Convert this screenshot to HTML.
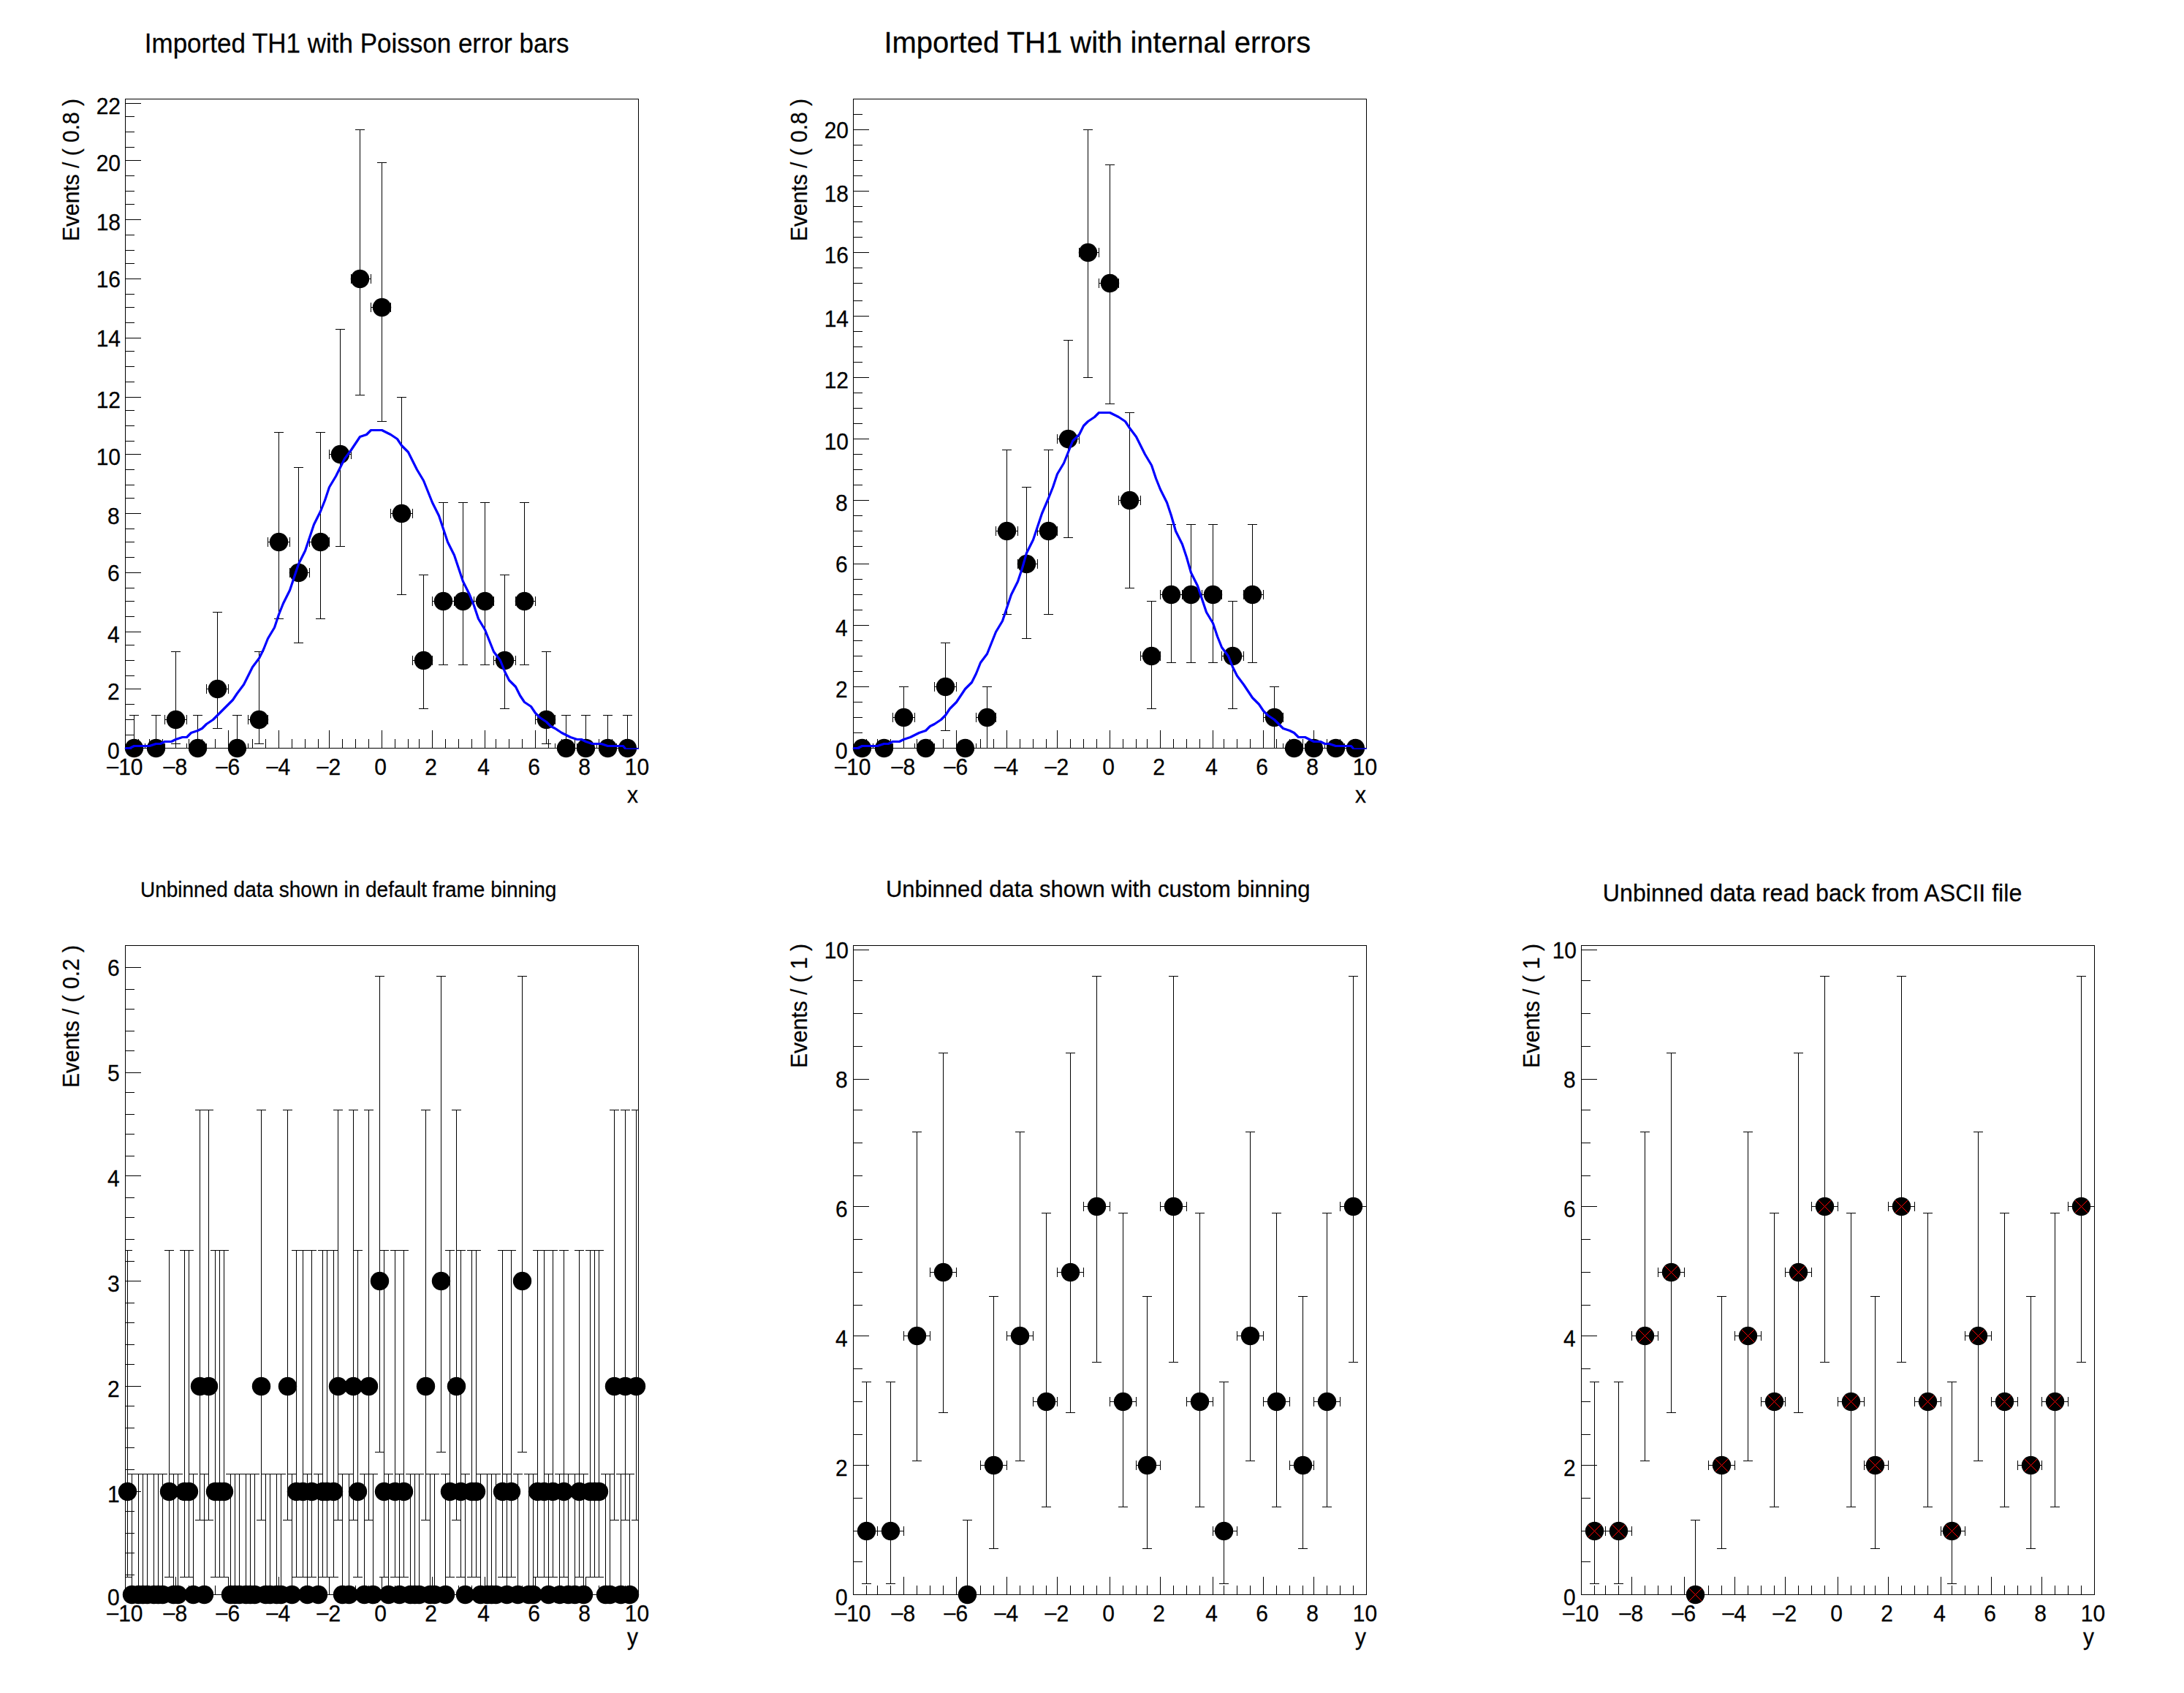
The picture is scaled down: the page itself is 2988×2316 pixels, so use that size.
<!DOCTYPE html>
<html><head><meta charset="utf-8"><title>rf102_dataimport</title>
<style>
html,body{margin:0;padding:0;background:#fff}
svg{display:block}
text{font-family:"Liberation Sans",sans-serif;font-size:30px;fill:#000;stroke:#000;stroke-width:0.25px}
</style></head><body>
<svg width="2988" height="2316" viewBox="0 0 2988 2316">
<rect width="2988" height="2316" fill="#fff"/>
<path shape-rendering="crispEdges" fill="none" stroke="#000" stroke-width="1" d="M171 135.5H874M171 1023.5H874M171.5 135V1024M873.5 135V1024M171.5 999V1024M189.5 1011V1024M204.5 1011V1024M222.5 1011V1024M240.5 999V1024M258.5 1011V1024M276.5 1011V1024M294.5 1011V1024M312.5 999V1024M327.5 1011V1024M345.5 1011V1024M363.5 1011V1024M381.5 999V1024M399.5 1011V1024M417.5 1011V1024M435.5 1011V1024M450.5 999V1024M468.5 1011V1024M486.5 1011V1024M504.5 1011V1024M522.5 999V1024M540.5 1011V1024M558.5 1011V1024M573.5 1011V1024M591.5 999V1024M609.5 1011V1024M627.5 1011V1024M645.5 1011V1024M663.5 999V1024M678.5 1011V1024M696.5 1011V1024M714.5 1011V1024M732.5 999V1024M750.5 1011V1024M768.5 1011V1024M786.5 1011V1024M801.5 999V1024M819.5 1011V1024M837.5 1011V1024M855.5 1011V1024M873.5 999V1024M171 1023.5H193M171 1005.5H184M171 984.5H184M171 963.5H184M171 942.5H193M171 924.5H184M171 903.5H184M171 882.5H184M171 864.5H193M171 843.5H184M171 822.5H184M171 804.5H184M171 783.5H193M171 762.5H184M171 741.5H184M171 723.5H184M171 702.5H193M171 681.5H184M171 663.5H184M171 642.5H184M171 621.5H193M171 603.5H184M171 582.5H184M171 561.5H184M171 543.5H193M171 522.5H184M171 501.5H184M171 480.5H184M171 462.5H193M171 441.5H184M171 420.5H184M171 402.5H184M171 381.5H193M171 360.5H184M171 342.5H184M171 321.5H184M171 300.5H193M171 279.5H184M171 261.5H184M171 240.5H184M171 219.5H193M171 201.5H184M171 180.5H184M171 159.5H184M171 141.5H193"/>
<clipPath id="c00"><rect x="171" y="135" width="703" height="889"/></clipPath>
<path clip-path="url(#c00)" shape-rendering="crispEdges" fill="none" stroke="#000" stroke-width="1" d="M171.5 1017V1030M195 1023.5H199M198.5 1017V1030M183.5 978V1012M177 978.5H190M198 1023.5H202M198.5 1017V1030M225.5 1017V1030M213.5 978V1012M207 978.5H220M225 984.5H229M225.5 978V991M252 984.5H256M255.5 978V991M240.5 891V973M234 891.5H247M240.5 996V1018M234 1017.5H247M255 1023.5H259M255.5 1017V1030M282.5 1017V1030M270.5 978V1012M264 978.5H277M282 942.5H286M282.5 936V949M309 942.5H313M312.5 936V949M297.5 837V931M291 837.5H304M297.5 954V997M291 996.5H304M312.5 1017V1030M336 1023.5H340M339.5 1017V1030M324.5 978V1012M318 978.5H331M339 984.5H343M339.5 978V991M366.5 978V991M354.5 891V973M348 891.5H361M354.5 996V1018M348 1017.5H361M366 741.5H370M366.5 735V748M393 741.5H397M396.5 735V748M381.5 591V730M375 591.5H388M381.5 753V847M375 846.5H388M396.5 777V790M420 783.5H424M423.5 777V790M408.5 639V772M402 639.5H415M408.5 795V880M402 879.5H415M423 741.5H427M423.5 735V748M450.5 735V748M438.5 591V730M432 591.5H445M438.5 753V847M432 846.5H445M450 621.5H454M450.5 615V628M477 621.5H481M480.5 615V628M465.5 450V610M459 450.5H472M465.5 633V748M459 747.5H472M480.5 375V388M504 381.5H508M507.5 375V388M492.5 177V370M486 177.5H499M492.5 393V541M486 540.5H499M507 420.5H511M507.5 414V427M534.5 414V427M522.5 222V409M516 222.5H529M522.5 432V577M516 576.5H529M534 702.5H538M534.5 696V709M561 702.5H565M564.5 696V709M549.5 543V691M543 543.5H556M549.5 714V814M543 813.5H556M564 903.5H568M564.5 897V910M591.5 897V910M579.5 786V892M573 786.5H586M579.5 915V970M573 969.5H586M591 822.5H595M591.5 816V829M618 822.5H622M621.5 816V829M606.5 687V811M600 687.5H613M606.5 834V910M600 909.5H613M621.5 816V829M645 822.5H649M648.5 816V829M633.5 687V811M627 687.5H640M633.5 834V910M627 909.5H640M648 822.5H652M648.5 816V829M675.5 816V829M663.5 687V811M657 687.5H670M663.5 834V910M657 909.5H670M675 903.5H679M675.5 897V910M702 903.5H706M705.5 897V910M690.5 786V892M684 786.5H697M690.5 915V970M684 969.5H697M705.5 816V829M729 822.5H733M732.5 816V829M717.5 687V811M711 687.5H724M717.5 834V910M711 909.5H724M732 984.5H736M732.5 978V991M759.5 978V991M747.5 891V973M741 891.5H754M747.5 996V1018M741 1017.5H754M759 1023.5H763M759.5 1017V1030M786 1023.5H790M789.5 1017V1030M774.5 978V1012M768 978.5H781M789.5 1017V1030M813 1023.5H817M816.5 1017V1030M801.5 978V1012M795 978.5H808M816 1023.5H820M816.5 1017V1030M843.5 1017V1030M831.5 978V1012M825 978.5H838M843 1023.5H847M843.5 1017V1030M870 1023.5H874M873.5 1017V1030M858.5 978V1012M852 978.5H865"/>
<g fill="#000"><circle cx="183.5" cy="1023.5" r="12.7"/><circle cx="213.5" cy="1023.5" r="12.7"/><circle cx="240.5" cy="984.5" r="12.7"/><circle cx="270.5" cy="1023.5" r="12.7"/><circle cx="297.5" cy="942.5" r="12.7"/><circle cx="324.5" cy="1023.5" r="12.7"/><circle cx="354.5" cy="984.5" r="12.7"/><circle cx="381.5" cy="741.5" r="12.7"/><circle cx="408.5" cy="783.5" r="12.7"/><circle cx="438.5" cy="741.5" r="12.7"/><circle cx="465.5" cy="621.5" r="12.7"/><circle cx="492.5" cy="381.5" r="12.7"/><circle cx="522.5" cy="420.5" r="12.7"/><circle cx="549.5" cy="702.5" r="12.7"/><circle cx="579.5" cy="903.5" r="12.7"/><circle cx="606.5" cy="822.5" r="12.7"/><circle cx="633.5" cy="822.5" r="12.7"/><circle cx="663.5" cy="822.5" r="12.7"/><circle cx="690.5" cy="903.5" r="12.7"/><circle cx="717.5" cy="822.5" r="12.7"/><circle cx="747.5" cy="984.5" r="12.7"/><circle cx="774.5" cy="1023.5" r="12.7"/><circle cx="801.5" cy="1023.5" r="12.7"/><circle cx="831.5" cy="1023.5" r="12.7"/><circle cx="858.5" cy="1023.5" r="12.7"/></g>
<path fill="none" stroke="#00f" stroke-width="3.2" stroke-linejoin="round" d="M171.5 1023.5L177.5 1023.5L183.5 1020.5L192.5 1020.5L198.5 1020.5L204.5 1020.5L213.5 1017.5L219.5 1017.5L225.5 1014.5L234.5 1014.5L240.5 1011.5L249.5 1008.5L255.5 1008.5L261.5 1002.5L270.5 999.5L276.5 996.5L282.5 990.5L291.5 984.5L297.5 978.5L303.5 972.5L312.5 963.5L318.5 957.5L324.5 948.5L333.5 936.5L339.5 924.5L345.5 912.5L354.5 900.5L360.5 888.5L366.5 873.5L375.5 858.5L381.5 840.5L387.5 825.5L396.5 807.5L402.5 789.5L408.5 771.5L417.5 753.5L423.5 735.5L429.5 717.5L438.5 699.5L444.5 684.5L450.5 666.5L459.5 651.5L465.5 639.5L471.5 627.5L480.5 615.5L486.5 606.5L492.5 597.5L501.5 594.5L507.5 588.5L513.5 588.5L522.5 588.5L528.5 591.5L534.5 594.5L543.5 600.5L549.5 609.5L558.5 618.5L564.5 630.5L570.5 642.5L579.5 657.5L585.5 672.5L591.5 687.5L600.5 705.5L606.5 723.5L612.5 741.5L621.5 759.5L627.5 777.5L633.5 795.5L642.5 813.5L648.5 828.5L654.5 846.5L663.5 861.5L669.5 876.5L675.5 891.5L684.5 903.5L690.5 918.5L696.5 930.5L705.5 939.5L711.5 951.5L717.5 960.5L726.5 966.5L732.5 975.5L738.5 981.5L747.5 987.5L753.5 993.5L759.5 996.5L768.5 1002.5L774.5 1005.5L780.5 1008.5L789.5 1011.5L795.5 1011.5L801.5 1014.5L810.5 1017.5L816.5 1017.5L822.5 1017.5L831.5 1020.5L837.5 1020.5L843.5 1020.5L852.5 1020.5L855.5 1024.0"/>
<path fill="none" stroke="#00f" stroke-width="1.6" d="M171 1024.3h9M854.5 1024.3H874"/>
<g><text transform="translate(195.5 1059.5) scale(1 1.03)" text-anchor="end"><tspan style="font-size:28.5px" dy="-1">–</tspan><tspan dy="1">10</tspan></text><text transform="translate(256.1 1059.5) scale(1 1.03)" text-anchor="end"><tspan style="font-size:28.5px" dy="-1">–</tspan><tspan dy="1">8</tspan></text><text transform="translate(328.1 1059.5) scale(1 1.03)" text-anchor="end"><tspan style="font-size:28.5px" dy="-1">–</tspan><tspan dy="1">6</tspan></text><text transform="translate(397.1 1059.5) scale(1 1.03)" text-anchor="end"><tspan style="font-size:28.5px" dy="-1">–</tspan><tspan dy="1">4</tspan></text><text transform="translate(466.1 1059.5) scale(1 1.03)" text-anchor="end"><tspan style="font-size:28.5px" dy="-1">–</tspan><tspan dy="1">2</tspan></text><text transform="translate(520.5 1059.5) scale(1 1.03)" text-anchor="middle">0</text><text transform="translate(589.5 1059.5) scale(1 1.03)" text-anchor="middle">2</text><text transform="translate(661.5 1059.5) scale(1 1.03)" text-anchor="middle">4</text><text transform="translate(730.5 1059.5) scale(1 1.03)" text-anchor="middle">6</text><text transform="translate(799.5 1059.5) scale(1 1.03)" text-anchor="middle">8</text><text transform="translate(871.5 1059.5) scale(1 1.03)" text-anchor="middle">10</text><text transform="translate(163.7 1038.2) scale(1 1.03)" text-anchor="end">0</text><text transform="translate(163.7 957.2) scale(1 1.03)" text-anchor="end">2</text><text transform="translate(163.7 879.2) scale(1 1.03)" text-anchor="end">4</text><text transform="translate(163.7 795.3) scale(1 1.03)" text-anchor="end">6</text><text transform="translate(163.7 717.2) scale(1 1.03)" text-anchor="end">8</text><text transform="translate(165.0 636.2) scale(1 1.03)" text-anchor="end">10</text><text transform="translate(165.0 558.2) scale(1 1.03)" text-anchor="end">12</text><text transform="translate(165.0 474.3) scale(1 1.03)" text-anchor="end">14</text><text transform="translate(165.0 393.3) scale(1 1.03)" text-anchor="end">16</text><text transform="translate(165.0 315.2) scale(1 1.03)" text-anchor="end">18</text><text transform="translate(165.0 234.2) scale(1 1.03)" text-anchor="end">20</text><text transform="translate(165.0 156.2) scale(1 1.03)" text-anchor="end">22</text><text transform="translate(873.0 1098.0) scale(1 1.03)" text-anchor="end">x</text><text transform="translate(108.3 135.0) rotate(-90) scale(1 1.03)" text-anchor="end">Events / ( 0.8 )</text><text transform="translate(197.8 71.7) scale(1 1.03)" style="font-size:35.0px">Imported TH1 with Poisson error bars</text></g>
<path shape-rendering="crispEdges" fill="none" stroke="#000" stroke-width="1" d="M1167 135.5H1870M1167 1023.5H1870M1167.5 135V1024M1869.5 135V1024M1167.5 999V1024M1185.5 1011V1024M1200.5 1011V1024M1218.5 1011V1024M1236.5 999V1024M1254.5 1011V1024M1272.5 1011V1024M1290.5 1011V1024M1308.5 999V1024M1323.5 1011V1024M1341.5 1011V1024M1359.5 1011V1024M1377.5 999V1024M1395.5 1011V1024M1413.5 1011V1024M1431.5 1011V1024M1446.5 999V1024M1464.5 1011V1024M1482.5 1011V1024M1500.5 1011V1024M1518.5 999V1024M1536.5 1011V1024M1554.5 1011V1024M1569.5 1011V1024M1587.5 999V1024M1605.5 1011V1024M1623.5 1011V1024M1641.5 1011V1024M1659.5 999V1024M1674.5 1011V1024M1692.5 1011V1024M1710.5 1011V1024M1728.5 999V1024M1746.5 1011V1024M1764.5 1011V1024M1782.5 1011V1024M1797.5 999V1024M1815.5 1011V1024M1833.5 1011V1024M1851.5 1011V1024M1869.5 999V1024M1167 1023.5H1189M1167 1002.5H1180M1167 981.5H1180M1167 960.5H1180M1167 939.5H1189M1167 918.5H1180M1167 897.5H1180M1167 876.5H1180M1167 855.5H1189M1167 834.5H1180M1167 813.5H1180M1167 792.5H1180M1167 771.5H1189M1167 747.5H1180M1167 726.5H1180M1167 705.5H1180M1167 684.5H1189M1167 663.5H1180M1167 642.5H1180M1167 621.5H1180M1167 600.5H1189M1167 579.5H1180M1167 558.5H1180M1167 537.5H1180M1167 516.5H1189M1167 495.5H1180M1167 474.5H1180M1167 453.5H1180M1167 432.5H1189M1167 411.5H1180M1167 387.5H1180M1167 366.5H1180M1167 345.5H1189M1167 324.5H1180M1167 303.5H1180M1167 282.5H1180M1167 261.5H1189M1167 240.5H1180M1167 219.5H1180M1167 198.5H1180M1167 177.5H1189M1167 156.5H1180M1167 135.5H1180"/>
<clipPath id="c10"><rect x="1167" y="135" width="703" height="889"/></clipPath>
<path clip-path="url(#c10)" shape-rendering="crispEdges" fill="none" stroke="#000" stroke-width="1" d="M1167.5 1017V1030M1191 1023.5H1195M1194.5 1017V1030M1194 1023.5H1198M1194.5 1017V1030M1221.5 1017V1030M1221 981.5H1225M1221.5 975V988M1248 981.5H1252M1251.5 975V988M1236.5 939V970M1230 939.5H1243M1236.5 993V1024M1230 1023.5H1243M1251 1023.5H1255M1251.5 1017V1030M1278.5 1017V1030M1278 939.5H1282M1278.5 933V946M1305 939.5H1309M1308.5 933V946M1293.5 879V928M1287 879.5H1300M1293.5 951V1000M1287 999.5H1300M1308.5 1017V1030M1332 1023.5H1336M1335.5 1017V1030M1335 981.5H1339M1335.5 975V988M1362.5 975V988M1350.5 939V970M1344 939.5H1357M1350.5 993V1024M1344 1023.5H1357M1362 726.5H1366M1362.5 720V733M1389 726.5H1393M1392.5 720V733M1377.5 615V715M1371 615.5H1384M1377.5 738V841M1371 840.5H1384M1392.5 765V778M1416 771.5H1420M1419.5 765V778M1404.5 666V760M1398 666.5H1411M1404.5 783V874M1398 873.5H1411M1419 726.5H1423M1419.5 720V733M1446.5 720V733M1434.5 615V715M1428 615.5H1441M1434.5 738V841M1428 840.5H1441M1446 600.5H1450M1446.5 594V607M1473 600.5H1477M1476.5 594V607M1461.5 465V589M1455 465.5H1468M1461.5 612V736M1455 735.5H1468M1476.5 339V352M1500 345.5H1504M1503.5 339V352M1488.5 177V334M1482 177.5H1495M1488.5 357V517M1482 516.5H1495M1503 387.5H1507M1503.5 381V394M1530.5 381V394M1518.5 225V376M1512 225.5H1525M1518.5 399V553M1512 552.5H1525M1530 684.5H1534M1530.5 678V691M1557 684.5H1561M1560.5 678V691M1545.5 564V673M1539 564.5H1552M1545.5 696V805M1539 804.5H1552M1560 897.5H1564M1560.5 891V904M1587.5 891V904M1575.5 822V886M1569 822.5H1582M1575.5 909V970M1569 969.5H1582M1587 813.5H1591M1587.5 807V820M1614 813.5H1618M1617.5 807V820M1602.5 717V802M1596 717.5H1609M1602.5 825V907M1596 906.5H1609M1617.5 807V820M1641 813.5H1645M1644.5 807V820M1629.5 717V802M1623 717.5H1636M1629.5 825V907M1623 906.5H1636M1644 813.5H1648M1644.5 807V820M1671.5 807V820M1659.5 717V802M1653 717.5H1666M1659.5 825V907M1653 906.5H1666M1671 897.5H1675M1671.5 891V904M1698 897.5H1702M1701.5 891V904M1686.5 822V886M1680 822.5H1693M1686.5 909V970M1680 969.5H1693M1701.5 807V820M1725 813.5H1729M1728.5 807V820M1713.5 717V802M1707 717.5H1720M1713.5 825V907M1707 906.5H1720M1728 981.5H1732M1728.5 975V988M1755.5 975V988M1743.5 939V970M1737 939.5H1750M1743.5 993V1024M1737 1023.5H1750M1755 1023.5H1759M1755.5 1017V1030M1782 1023.5H1786M1785.5 1017V1030M1785.5 1017V1030M1809 1023.5H1813M1812.5 1017V1030M1812 1023.5H1816M1812.5 1017V1030M1839.5 1017V1030M1839 1023.5H1843M1839.5 1017V1030M1866 1023.5H1870M1869.5 1017V1030"/>
<g fill="#000"><circle cx="1179.5" cy="1023.5" r="12.7"/><circle cx="1209.5" cy="1023.5" r="12.7"/><circle cx="1236.5" cy="981.5" r="12.7"/><circle cx="1266.5" cy="1023.5" r="12.7"/><circle cx="1293.5" cy="939.5" r="12.7"/><circle cx="1320.5" cy="1023.5" r="12.7"/><circle cx="1350.5" cy="981.5" r="12.7"/><circle cx="1377.5" cy="726.5" r="12.7"/><circle cx="1404.5" cy="771.5" r="12.7"/><circle cx="1434.5" cy="726.5" r="12.7"/><circle cx="1461.5" cy="600.5" r="12.7"/><circle cx="1488.5" cy="345.5" r="12.7"/><circle cx="1518.5" cy="387.5" r="12.7"/><circle cx="1545.5" cy="684.5" r="12.7"/><circle cx="1575.5" cy="897.5" r="12.7"/><circle cx="1602.5" cy="813.5" r="12.7"/><circle cx="1629.5" cy="813.5" r="12.7"/><circle cx="1659.5" cy="813.5" r="12.7"/><circle cx="1686.5" cy="897.5" r="12.7"/><circle cx="1713.5" cy="813.5" r="12.7"/><circle cx="1743.5" cy="981.5" r="12.7"/><circle cx="1770.5" cy="1023.5" r="12.7"/><circle cx="1797.5" cy="1023.5" r="12.7"/><circle cx="1827.5" cy="1023.5" r="12.7"/><circle cx="1854.5" cy="1023.5" r="12.7"/></g>
<path fill="none" stroke="#00f" stroke-width="3.2" stroke-linejoin="round" d="M1167.5 1023.5L1173.5 1023.5L1179.5 1020.5L1188.5 1020.5L1194.5 1020.5L1200.5 1020.5L1209.5 1017.5L1215.5 1017.5L1221.5 1014.5L1230.5 1014.5L1236.5 1011.5L1245.5 1008.5L1251.5 1005.5L1257.5 1002.5L1266.5 999.5L1272.5 993.5L1278.5 990.5L1287.5 984.5L1293.5 978.5L1299.5 969.5L1308.5 960.5L1314.5 951.5L1320.5 942.5L1329.5 933.5L1335.5 921.5L1341.5 906.5L1350.5 894.5L1356.5 879.5L1362.5 864.5L1371.5 849.5L1377.5 831.5L1383.5 813.5L1392.5 795.5L1398.5 777.5L1404.5 756.5L1413.5 738.5L1419.5 720.5L1425.5 702.5L1434.5 681.5L1440.5 666.5L1446.5 648.5L1455.5 633.5L1461.5 618.5L1467.5 603.5L1476.5 594.5L1482.5 582.5L1488.5 576.5L1497.5 570.5L1503.5 564.5L1509.5 564.5L1518.5 564.5L1524.5 567.5L1530.5 570.5L1539.5 576.5L1545.5 585.5L1554.5 597.5L1560.5 609.5L1566.5 621.5L1575.5 636.5L1581.5 654.5L1587.5 669.5L1596.5 687.5L1602.5 705.5L1608.5 726.5L1617.5 744.5L1623.5 762.5L1629.5 783.5L1638.5 801.5L1644.5 819.5L1650.5 837.5L1659.5 852.5L1665.5 870.5L1671.5 885.5L1680.5 897.5L1686.5 912.5L1692.5 924.5L1701.5 936.5L1707.5 945.5L1713.5 954.5L1722.5 963.5L1728.5 972.5L1734.5 978.5L1743.5 984.5L1749.5 990.5L1755.5 996.5L1764.5 999.5L1770.5 1002.5L1776.5 1008.5L1785.5 1008.5L1791.5 1011.5L1797.5 1014.5L1806.5 1014.5L1812.5 1017.5L1818.5 1017.5L1827.5 1020.5L1833.5 1020.5L1839.5 1020.5L1848.5 1020.5L1851.5 1024.0"/>
<path fill="none" stroke="#00f" stroke-width="1.6" d="M1167 1024.3h9M1850.5 1024.3H1870"/>
<g><text transform="translate(1191.5 1059.5) scale(1 1.03)" text-anchor="end"><tspan style="font-size:28.5px" dy="-1">–</tspan><tspan dy="1">10</tspan></text><text transform="translate(1252.1 1059.5) scale(1 1.03)" text-anchor="end"><tspan style="font-size:28.5px" dy="-1">–</tspan><tspan dy="1">8</tspan></text><text transform="translate(1324.1 1059.5) scale(1 1.03)" text-anchor="end"><tspan style="font-size:28.5px" dy="-1">–</tspan><tspan dy="1">6</tspan></text><text transform="translate(1393.1 1059.5) scale(1 1.03)" text-anchor="end"><tspan style="font-size:28.5px" dy="-1">–</tspan><tspan dy="1">4</tspan></text><text transform="translate(1462.1 1059.5) scale(1 1.03)" text-anchor="end"><tspan style="font-size:28.5px" dy="-1">–</tspan><tspan dy="1">2</tspan></text><text transform="translate(1516.5 1059.5) scale(1 1.03)" text-anchor="middle">0</text><text transform="translate(1585.5 1059.5) scale(1 1.03)" text-anchor="middle">2</text><text transform="translate(1657.5 1059.5) scale(1 1.03)" text-anchor="middle">4</text><text transform="translate(1726.5 1059.5) scale(1 1.03)" text-anchor="middle">6</text><text transform="translate(1795.5 1059.5) scale(1 1.03)" text-anchor="middle">8</text><text transform="translate(1867.5 1059.5) scale(1 1.03)" text-anchor="middle">10</text><text transform="translate(1159.7 1038.2) scale(1 1.03)" text-anchor="end">0</text><text transform="translate(1159.7 954.2) scale(1 1.03)" text-anchor="end">2</text><text transform="translate(1159.7 870.2) scale(1 1.03)" text-anchor="end">4</text><text transform="translate(1159.7 783.3) scale(1 1.03)" text-anchor="end">6</text><text transform="translate(1159.7 699.2) scale(1 1.03)" text-anchor="end">8</text><text transform="translate(1161.0 615.2) scale(1 1.03)" text-anchor="end">10</text><text transform="translate(1161.0 531.2) scale(1 1.03)" text-anchor="end">12</text><text transform="translate(1161.0 447.2) scale(1 1.03)" text-anchor="end">14</text><text transform="translate(1161.0 360.2) scale(1 1.03)" text-anchor="end">16</text><text transform="translate(1161.0 276.2) scale(1 1.03)" text-anchor="end">18</text><text transform="translate(1161.0 189.3) scale(1 1.03)" text-anchor="end">20</text><text transform="translate(1869.0 1098.0) scale(1 1.03)" text-anchor="end">x</text><text transform="translate(1104.3 135.0) rotate(-90) scale(1 1.03)" text-anchor="end">Events / ( 0.8 )</text><text transform="translate(1209.4 71.7) scale(1 1.03)" style="font-size:40.0px">Imported TH1 with internal errors</text></g>
<path shape-rendering="crispEdges" fill="none" stroke="#000" stroke-width="1" d="M171 1293.5H874M171 2181.5H874M171.5 1293V2182M873.5 1293V2182M171.5 2157V2182M189.5 2169V2182M204.5 2169V2182M222.5 2169V2182M240.5 2157V2182M258.5 2169V2182M276.5 2169V2182M294.5 2169V2182M312.5 2157V2182M327.5 2169V2182M345.5 2169V2182M363.5 2169V2182M381.5 2157V2182M399.5 2169V2182M417.5 2169V2182M435.5 2169V2182M450.5 2157V2182M468.5 2169V2182M486.5 2169V2182M504.5 2169V2182M522.5 2157V2182M540.5 2169V2182M558.5 2169V2182M573.5 2169V2182M591.5 2157V2182M609.5 2169V2182M627.5 2169V2182M645.5 2169V2182M663.5 2157V2182M678.5 2169V2182M696.5 2169V2182M714.5 2169V2182M732.5 2157V2182M750.5 2169V2182M768.5 2169V2182M786.5 2169V2182M801.5 2157V2182M819.5 2169V2182M837.5 2169V2182M855.5 2169V2182M873.5 2157V2182M171 2181.5H193M171 2154.5H184M171 2124.5H184M171 2097.5H184M171 2067.5H184M171 2040.5H193M171 2010.5H184M171 1980.5H184M171 1953.5H184M171 1923.5H184M171 1896.5H193M171 1866.5H184M171 1839.5H184M171 1809.5H184M171 1782.5H184M171 1752.5H193M171 1725.5H184M171 1695.5H184M171 1665.5H184M171 1638.5H184M171 1608.5H193M171 1581.5H184M171 1551.5H184M171 1524.5H184M171 1494.5H184M171 1467.5H193M171 1437.5H184M171 1410.5H184M171 1380.5H184M171 1353.5H184M171 1323.5H193M171 1293.5H184"/>
<clipPath id="c01"><rect x="171" y="1293" width="703" height="889"/></clipPath>
<path clip-path="url(#c01)" shape-rendering="crispEdges" fill="none" stroke="#000" stroke-width="1" d="M174.5 1710V2029M168 1710.5H181M174.5 2052V2158M168 2157.5H181M180.5 2016V2170M174 2016.5H187M189.5 2016V2170M183 2016.5H196M195.5 2016V2170M189 2016.5H202M201.5 2016V2170M195 2016.5H208M210.5 2016V2170M204 2016.5H217M216.5 2016V2170M210 2016.5H223M222.5 2016V2170M216 2016.5H229M231.5 1710V2029M225 1710.5H238M231.5 2052V2158M225 2157.5H238M237.5 2016V2170M231 2016.5H244M243.5 2016V2170M237 2016.5H250M252.5 1710V2029M246 1710.5H259M252.5 2052V2158M246 2157.5H259M258.5 1710V2029M252 1710.5H265M258.5 2052V2158M252 2157.5H265M264.5 2016V2170M258 2016.5H271M273.5 1518V1885M267 1518.5H280M273.5 1908V2080M267 2079.5H280M279.5 2016V2170M273 2016.5H286M285.5 1518V1885M279 1518.5H292M285.5 1908V2080M279 2079.5H292M294.5 1710V2029M288 1710.5H301M294.5 2052V2158M288 2157.5H301M300.5 1710V2029M294 1710.5H307M300.5 2052V2158M294 2157.5H307M306.5 1710V2029M300 1710.5H313M306.5 2052V2158M300 2157.5H313M315.5 2016V2170M309 2016.5H322M321.5 2016V2170M315 2016.5H328M327.5 2016V2170M321 2016.5H334M336.5 2016V2170M330 2016.5H343M342.5 2016V2170M336 2016.5H349M348.5 2016V2170M342 2016.5H355M357.5 1518V1885M351 1518.5H364M357.5 1908V2080M351 2079.5H364M363.5 2016V2170M357 2016.5H370M369.5 2016V2170M363 2016.5H376M378.5 2016V2170M372 2016.5H385M384.5 2016V2170M378 2016.5H391M393.5 1518V1885M387 1518.5H400M393.5 1908V2080M387 2079.5H400M399.5 2016V2170M393 2016.5H406M405.5 1710V2029M399 1710.5H412M405.5 2052V2158M399 2157.5H412M414.5 1710V2029M408 1710.5H421M414.5 2052V2158M408 2157.5H421M420.5 2016V2170M414 2016.5H427M426.5 1710V2029M420 1710.5H433M426.5 2052V2158M420 2157.5H433M435.5 2016V2170M429 2016.5H442M441.5 1710V2029M435 1710.5H448M441.5 2052V2158M435 2157.5H448M447.5 1710V2029M441 1710.5H454M447.5 2052V2158M441 2157.5H454M456.5 1710V2029M450 1710.5H463M456.5 2052V2158M450 2157.5H463M462.5 1518V1885M456 1518.5H469M462.5 1908V2080M456 2079.5H469M468.5 2016V2170M462 2016.5H475M477.5 2016V2170M471 2016.5H484M483.5 1518V1885M477 1518.5H490M483.5 1908V2080M477 2079.5H490M489.5 1710V2029M483 1710.5H496M489.5 2052V2158M483 2157.5H496M498.5 2016V2170M492 2016.5H505M504.5 1518V1885M498 1518.5H511M504.5 1908V2080M498 2079.5H511M510.5 2016V2170M504 2016.5H517M519.5 1335V1741M513 1335.5H526M519.5 1764V1987M513 1986.5H526M525.5 1710V2029M519 1710.5H532M525.5 2052V2158M519 2157.5H532M531.5 2016V2170M525 2016.5H538M540.5 1710V2029M534 1710.5H547M540.5 2052V2158M534 2157.5H547M546.5 2016V2170M540 2016.5H553M552.5 1710V2029M546 1710.5H559M552.5 2052V2158M546 2157.5H559M561.5 2016V2170M555 2016.5H568M567.5 2016V2170M561 2016.5H574M573.5 2016V2170M567 2016.5H580M582.5 1518V1885M576 1518.5H589M582.5 1908V2080M576 2079.5H589M588.5 2016V2170M582 2016.5H595M594.5 2016V2170M588 2016.5H601M603.5 1335V1741M597 1335.5H610M603.5 1764V1987M597 1986.5H610M609.5 2016V2170M603 2016.5H616M615.5 1710V2029M609 1710.5H622M615.5 2052V2158M609 2157.5H622M624.5 1518V1885M618 1518.5H631M624.5 1908V2080M618 2079.5H631M630.5 1710V2029M624 1710.5H637M630.5 2052V2158M624 2157.5H637M636.5 2016V2170M630 2016.5H643M645.5 1710V2029M639 1710.5H652M645.5 2052V2158M639 2157.5H652M651.5 1710V2029M645 1710.5H658M651.5 2052V2158M645 2157.5H658M657.5 2016V2170M651 2016.5H664M666.5 2016V2170M660 2016.5H673M672.5 2016V2170M666 2016.5H679M678.5 2016V2170M672 2016.5H685M687.5 1710V2029M681 1710.5H694M687.5 2052V2158M681 2157.5H694M693.5 2016V2170M687 2016.5H700M699.5 1710V2029M693 1710.5H706M699.5 2052V2158M693 2157.5H706M708.5 2016V2170M702 2016.5H715M714.5 1335V1741M708 1335.5H721M714.5 1764V1987M708 1986.5H721M723.5 2016V2170M717 2016.5H730M729.5 2016V2170M723 2016.5H736M735.5 1710V2029M729 1710.5H742M735.5 2052V2158M729 2157.5H742M744.5 1710V2029M738 1710.5H751M744.5 2052V2158M738 2157.5H751M750.5 2016V2170M744 2016.5H757M756.5 1710V2029M750 1710.5H763M756.5 2052V2158M750 2157.5H763M765.5 2016V2170M759 2016.5H772M771.5 1710V2029M765 1710.5H778M771.5 2052V2158M765 2157.5H778M777.5 2016V2170M771 2016.5H784M786.5 2016V2170M780 2016.5H793M792.5 1710V2029M786 1710.5H799M792.5 2052V2158M786 2157.5H799M798.5 2016V2170M792 2016.5H805M807.5 1710V2029M801 1710.5H814M807.5 2052V2158M801 2157.5H814M813.5 1710V2029M807 1710.5H820M813.5 2052V2158M807 2157.5H820M819.5 1710V2029M813 1710.5H826M819.5 2052V2158M813 2157.5H826M828.5 2016V2170M822 2016.5H835M834.5 2016V2170M828 2016.5H841M840.5 1518V1885M834 1518.5H847M840.5 1908V2080M834 2079.5H847M849.5 2016V2170M843 2016.5H856M855.5 1518V1885M849 1518.5H862M855.5 1908V2080M849 2079.5H862M861.5 2016V2170M855 2016.5H868M870.5 1518V1885M864 1518.5H877M870.5 1908V2080M864 2079.5H877"/>
<g fill="#000"><circle cx="174.5" cy="2040.5" r="12.7"/><circle cx="180.5" cy="2181.5" r="12.7"/><circle cx="189.5" cy="2181.5" r="12.7"/><circle cx="195.5" cy="2181.5" r="12.7"/><circle cx="201.5" cy="2181.5" r="12.7"/><circle cx="210.5" cy="2181.5" r="12.7"/><circle cx="216.5" cy="2181.5" r="12.7"/><circle cx="222.5" cy="2181.5" r="12.7"/><circle cx="231.5" cy="2040.5" r="12.7"/><circle cx="237.5" cy="2181.5" r="12.7"/><circle cx="243.5" cy="2181.5" r="12.7"/><circle cx="252.5" cy="2040.5" r="12.7"/><circle cx="258.5" cy="2040.5" r="12.7"/><circle cx="264.5" cy="2181.5" r="12.7"/><circle cx="273.5" cy="1896.5" r="12.7"/><circle cx="279.5" cy="2181.5" r="12.7"/><circle cx="285.5" cy="1896.5" r="12.7"/><circle cx="294.5" cy="2040.5" r="12.7"/><circle cx="300.5" cy="2040.5" r="12.7"/><circle cx="306.5" cy="2040.5" r="12.7"/><circle cx="315.5" cy="2181.5" r="12.7"/><circle cx="321.5" cy="2181.5" r="12.7"/><circle cx="327.5" cy="2181.5" r="12.7"/><circle cx="336.5" cy="2181.5" r="12.7"/><circle cx="342.5" cy="2181.5" r="12.7"/><circle cx="348.5" cy="2181.5" r="12.7"/><circle cx="357.5" cy="1896.5" r="12.7"/><circle cx="363.5" cy="2181.5" r="12.7"/><circle cx="369.5" cy="2181.5" r="12.7"/><circle cx="378.5" cy="2181.5" r="12.7"/><circle cx="384.5" cy="2181.5" r="12.7"/><circle cx="393.5" cy="1896.5" r="12.7"/><circle cx="399.5" cy="2181.5" r="12.7"/><circle cx="405.5" cy="2040.5" r="12.7"/><circle cx="414.5" cy="2040.5" r="12.7"/><circle cx="420.5" cy="2181.5" r="12.7"/><circle cx="426.5" cy="2040.5" r="12.7"/><circle cx="435.5" cy="2181.5" r="12.7"/><circle cx="441.5" cy="2040.5" r="12.7"/><circle cx="447.5" cy="2040.5" r="12.7"/><circle cx="456.5" cy="2040.5" r="12.7"/><circle cx="462.5" cy="1896.5" r="12.7"/><circle cx="468.5" cy="2181.5" r="12.7"/><circle cx="477.5" cy="2181.5" r="12.7"/><circle cx="483.5" cy="1896.5" r="12.7"/><circle cx="489.5" cy="2040.5" r="12.7"/><circle cx="498.5" cy="2181.5" r="12.7"/><circle cx="504.5" cy="1896.5" r="12.7"/><circle cx="510.5" cy="2181.5" r="12.7"/><circle cx="519.5" cy="1752.5" r="12.7"/><circle cx="525.5" cy="2040.5" r="12.7"/><circle cx="531.5" cy="2181.5" r="12.7"/><circle cx="540.5" cy="2040.5" r="12.7"/><circle cx="546.5" cy="2181.5" r="12.7"/><circle cx="552.5" cy="2040.5" r="12.7"/><circle cx="561.5" cy="2181.5" r="12.7"/><circle cx="567.5" cy="2181.5" r="12.7"/><circle cx="573.5" cy="2181.5" r="12.7"/><circle cx="582.5" cy="1896.5" r="12.7"/><circle cx="588.5" cy="2181.5" r="12.7"/><circle cx="594.5" cy="2181.5" r="12.7"/><circle cx="603.5" cy="1752.5" r="12.7"/><circle cx="609.5" cy="2181.5" r="12.7"/><circle cx="615.5" cy="2040.5" r="12.7"/><circle cx="624.5" cy="1896.5" r="12.7"/><circle cx="630.5" cy="2040.5" r="12.7"/><circle cx="636.5" cy="2181.5" r="12.7"/><circle cx="645.5" cy="2040.5" r="12.7"/><circle cx="651.5" cy="2040.5" r="12.7"/><circle cx="657.5" cy="2181.5" r="12.7"/><circle cx="666.5" cy="2181.5" r="12.7"/><circle cx="672.5" cy="2181.5" r="12.7"/><circle cx="678.5" cy="2181.5" r="12.7"/><circle cx="687.5" cy="2040.5" r="12.7"/><circle cx="693.5" cy="2181.5" r="12.7"/><circle cx="699.5" cy="2040.5" r="12.7"/><circle cx="708.5" cy="2181.5" r="12.7"/><circle cx="714.5" cy="1752.5" r="12.7"/><circle cx="723.5" cy="2181.5" r="12.7"/><circle cx="729.5" cy="2181.5" r="12.7"/><circle cx="735.5" cy="2040.5" r="12.7"/><circle cx="744.5" cy="2040.5" r="12.7"/><circle cx="750.5" cy="2181.5" r="12.7"/><circle cx="756.5" cy="2040.5" r="12.7"/><circle cx="765.5" cy="2181.5" r="12.7"/><circle cx="771.5" cy="2040.5" r="12.7"/><circle cx="777.5" cy="2181.5" r="12.7"/><circle cx="786.5" cy="2181.5" r="12.7"/><circle cx="792.5" cy="2040.5" r="12.7"/><circle cx="798.5" cy="2181.5" r="12.7"/><circle cx="807.5" cy="2040.5" r="12.7"/><circle cx="813.5" cy="2040.5" r="12.7"/><circle cx="819.5" cy="2040.5" r="12.7"/><circle cx="828.5" cy="2181.5" r="12.7"/><circle cx="834.5" cy="2181.5" r="12.7"/><circle cx="840.5" cy="1896.5" r="12.7"/><circle cx="849.5" cy="2181.5" r="12.7"/><circle cx="855.5" cy="1896.5" r="12.7"/><circle cx="861.5" cy="2181.5" r="12.7"/><circle cx="870.5" cy="1896.5" r="12.7"/></g>
<g><text transform="translate(195.5 2217.5) scale(1 1.03)" text-anchor="end"><tspan style="font-size:28.5px" dy="-1">–</tspan><tspan dy="1">10</tspan></text><text transform="translate(256.1 2217.5) scale(1 1.03)" text-anchor="end"><tspan style="font-size:28.5px" dy="-1">–</tspan><tspan dy="1">8</tspan></text><text transform="translate(328.1 2217.5) scale(1 1.03)" text-anchor="end"><tspan style="font-size:28.5px" dy="-1">–</tspan><tspan dy="1">6</tspan></text><text transform="translate(397.1 2217.5) scale(1 1.03)" text-anchor="end"><tspan style="font-size:28.5px" dy="-1">–</tspan><tspan dy="1">4</tspan></text><text transform="translate(466.1 2217.5) scale(1 1.03)" text-anchor="end"><tspan style="font-size:28.5px" dy="-1">–</tspan><tspan dy="1">2</tspan></text><text transform="translate(520.5 2217.5) scale(1 1.03)" text-anchor="middle">0</text><text transform="translate(589.5 2217.5) scale(1 1.03)" text-anchor="middle">2</text><text transform="translate(661.5 2217.5) scale(1 1.03)" text-anchor="middle">4</text><text transform="translate(730.5 2217.5) scale(1 1.03)" text-anchor="middle">6</text><text transform="translate(799.5 2217.5) scale(1 1.03)" text-anchor="middle">8</text><text transform="translate(871.5 2217.5) scale(1 1.03)" text-anchor="middle">10</text><text transform="translate(163.7 2196.2) scale(1 1.03)" text-anchor="end">0</text><text transform="translate(163.7 2055.2) scale(1 1.03)" text-anchor="end">1</text><text transform="translate(163.7 1911.2) scale(1 1.03)" text-anchor="end">2</text><text transform="translate(163.7 1767.2) scale(1 1.03)" text-anchor="end">3</text><text transform="translate(163.7 1623.2) scale(1 1.03)" text-anchor="end">4</text><text transform="translate(163.7 1479.3) scale(1 1.03)" text-anchor="end">5</text><text transform="translate(163.7 1335.3) scale(1 1.03)" text-anchor="end">6</text><text transform="translate(873.0 2250.0) scale(1 1.03)" text-anchor="end">y</text><text transform="translate(108.3 1293.0) rotate(-90) scale(1 1.03)" text-anchor="end">Events / ( 0.2 )</text><text transform="translate(192.0 1226.9) scale(1 1.03)" style="font-size:28.0px">Unbinned data shown in default frame binning</text></g>
<path shape-rendering="crispEdges" fill="none" stroke="#000" stroke-width="1" d="M1167 1293.5H1870M1167 2181.5H1870M1167.5 1293V2182M1869.5 1293V2182M1167.5 2157V2182M1185.5 2169V2182M1200.5 2169V2182M1218.5 2169V2182M1236.5 2157V2182M1254.5 2169V2182M1272.5 2169V2182M1290.5 2169V2182M1308.5 2157V2182M1323.5 2169V2182M1341.5 2169V2182M1359.5 2169V2182M1377.5 2157V2182M1395.5 2169V2182M1413.5 2169V2182M1431.5 2169V2182M1446.5 2157V2182M1464.5 2169V2182M1482.5 2169V2182M1500.5 2169V2182M1518.5 2157V2182M1536.5 2169V2182M1554.5 2169V2182M1569.5 2169V2182M1587.5 2157V2182M1605.5 2169V2182M1623.5 2169V2182M1641.5 2169V2182M1659.5 2157V2182M1674.5 2169V2182M1692.5 2169V2182M1710.5 2169V2182M1728.5 2157V2182M1746.5 2169V2182M1764.5 2169V2182M1782.5 2169V2182M1797.5 2157V2182M1815.5 2169V2182M1833.5 2169V2182M1851.5 2169V2182M1869.5 2157V2182M1167 2181.5H1189M1167 2136.5H1180M1167 2094.5H1180M1167 2049.5H1180M1167 2004.5H1189M1167 1962.5H1180M1167 1917.5H1180M1167 1872.5H1180M1167 1827.5H1189M1167 1785.5H1180M1167 1740.5H1180M1167 1695.5H1180M1167 1650.5H1189M1167 1608.5H1180M1167 1563.5H1180M1167 1518.5H1180M1167 1476.5H1189M1167 1431.5H1180M1167 1386.5H1180M1167 1341.5H1180M1167 1299.5H1189"/>
<clipPath id="c11"><rect x="1167" y="1293" width="703" height="889"/></clipPath>
<path clip-path="url(#c11)" shape-rendering="crispEdges" fill="none" stroke="#000" stroke-width="1" d="M1167 2094.5H1174M1167.5 2088V2101M1197 2094.5H1201M1200.5 2088V2101M1185.5 1890V2083M1179 1890.5H1192M1185.5 2106V2167M1179 2166.5H1192M1200 2094.5H1207M1200.5 2088V2101M1230 2094.5H1237M1236.5 2088V2101M1218.5 1890V2083M1212 1890.5H1225M1218.5 2106V2167M1212 2166.5H1225M1236 1827.5H1243M1236.5 1821V1834M1266 1827.5H1273M1272.5 1821V1834M1254.5 1548V1816M1248 1548.5H1261M1254.5 1839V1999M1248 1998.5H1261M1272 1740.5H1279M1272.5 1734V1747M1302 1740.5H1309M1308.5 1734V1747M1290.5 1440V1729M1284 1440.5H1297M1290.5 1752V1933M1284 1932.5H1297M1308 2181.5H1312M1308.5 2175V2188M1335 2181.5H1342M1341.5 2175V2188M1323.5 2079V2170M1317 2079.5H1330M1341 2004.5H1348M1341.5 1998V2011M1371 2004.5H1378M1377.5 1998V2011M1359.5 1773V1993M1353 1773.5H1366M1359.5 2016V2119M1353 2118.5H1366M1377 1827.5H1384M1377.5 1821V1834M1407 1827.5H1414M1413.5 1821V1834M1395.5 1548V1816M1389 1548.5H1402M1395.5 1839V1999M1389 1998.5H1402M1413 1917.5H1420M1413.5 1911V1924M1443 1917.5H1447M1446.5 1911V1924M1431.5 1659V1906M1425 1659.5H1438M1431.5 1929V2062M1425 2061.5H1438M1446 1740.5H1453M1446.5 1734V1747M1476 1740.5H1483M1482.5 1734V1747M1464.5 1440V1729M1458 1440.5H1471M1464.5 1752V1933M1458 1932.5H1471M1482 1650.5H1489M1482.5 1644V1657M1512 1650.5H1519M1518.5 1644V1657M1500.5 1335V1639M1494 1335.5H1507M1500.5 1662V1864M1494 1863.5H1507M1518 1917.5H1525M1518.5 1911V1924M1548 1917.5H1555M1554.5 1911V1924M1536.5 1659V1906M1530 1659.5H1543M1536.5 1929V2062M1530 2061.5H1543M1554 2004.5H1558M1554.5 1998V2011M1581 2004.5H1588M1587.5 1998V2011M1569.5 1773V1993M1563 1773.5H1576M1569.5 2016V2119M1563 2118.5H1576M1587 1650.5H1594M1587.5 1644V1657M1617 1650.5H1624M1623.5 1644V1657M1605.5 1335V1639M1599 1335.5H1612M1605.5 1662V1864M1599 1863.5H1612M1623 1917.5H1630M1623.5 1911V1924M1653 1917.5H1660M1659.5 1911V1924M1641.5 1659V1906M1635 1659.5H1648M1641.5 1929V2062M1635 2061.5H1648M1659 2094.5H1663M1659.5 2088V2101M1686 2094.5H1693M1692.5 2088V2101M1674.5 1890V2083M1668 1890.5H1681M1674.5 2106V2167M1668 2166.5H1681M1692 1827.5H1699M1692.5 1821V1834M1722 1827.5H1729M1728.5 1821V1834M1710.5 1548V1816M1704 1548.5H1717M1710.5 1839V1999M1704 1998.5H1717M1728 1917.5H1735M1728.5 1911V1924M1758 1917.5H1765M1764.5 1911V1924M1746.5 1659V1906M1740 1659.5H1753M1746.5 1929V2062M1740 2061.5H1753M1764 2004.5H1771M1764.5 1998V2011M1794 2004.5H1798M1797.5 1998V2011M1782.5 1773V1993M1776 1773.5H1789M1782.5 2016V2119M1776 2118.5H1789M1797 1917.5H1804M1797.5 1911V1924M1827 1917.5H1834M1833.5 1911V1924M1815.5 1659V1906M1809 1659.5H1822M1815.5 1929V2062M1809 2061.5H1822M1833 1650.5H1840M1833.5 1644V1657M1863 1650.5H1870M1869.5 1644V1657M1851.5 1335V1639M1845 1335.5H1858M1851.5 1662V1864M1845 1863.5H1858"/>
<g fill="#000"><circle cx="1185.5" cy="2094.5" r="12.7"/><circle cx="1218.5" cy="2094.5" r="12.7"/><circle cx="1254.5" cy="1827.5" r="12.7"/><circle cx="1290.5" cy="1740.5" r="12.7"/><circle cx="1323.5" cy="2181.5" r="12.7"/><circle cx="1359.5" cy="2004.5" r="12.7"/><circle cx="1395.5" cy="1827.5" r="12.7"/><circle cx="1431.5" cy="1917.5" r="12.7"/><circle cx="1464.5" cy="1740.5" r="12.7"/><circle cx="1500.5" cy="1650.5" r="12.7"/><circle cx="1536.5" cy="1917.5" r="12.7"/><circle cx="1569.5" cy="2004.5" r="12.7"/><circle cx="1605.5" cy="1650.5" r="12.7"/><circle cx="1641.5" cy="1917.5" r="12.7"/><circle cx="1674.5" cy="2094.5" r="12.7"/><circle cx="1710.5" cy="1827.5" r="12.7"/><circle cx="1746.5" cy="1917.5" r="12.7"/><circle cx="1782.5" cy="2004.5" r="12.7"/><circle cx="1815.5" cy="1917.5" r="12.7"/><circle cx="1851.5" cy="1650.5" r="12.7"/></g>
<g><text transform="translate(1191.5 2217.5) scale(1 1.03)" text-anchor="end"><tspan style="font-size:28.5px" dy="-1">–</tspan><tspan dy="1">10</tspan></text><text transform="translate(1252.1 2217.5) scale(1 1.03)" text-anchor="end"><tspan style="font-size:28.5px" dy="-1">–</tspan><tspan dy="1">8</tspan></text><text transform="translate(1324.1 2217.5) scale(1 1.03)" text-anchor="end"><tspan style="font-size:28.5px" dy="-1">–</tspan><tspan dy="1">6</tspan></text><text transform="translate(1393.1 2217.5) scale(1 1.03)" text-anchor="end"><tspan style="font-size:28.5px" dy="-1">–</tspan><tspan dy="1">4</tspan></text><text transform="translate(1462.1 2217.5) scale(1 1.03)" text-anchor="end"><tspan style="font-size:28.5px" dy="-1">–</tspan><tspan dy="1">2</tspan></text><text transform="translate(1516.5 2217.5) scale(1 1.03)" text-anchor="middle">0</text><text transform="translate(1585.5 2217.5) scale(1 1.03)" text-anchor="middle">2</text><text transform="translate(1657.5 2217.5) scale(1 1.03)" text-anchor="middle">4</text><text transform="translate(1726.5 2217.5) scale(1 1.03)" text-anchor="middle">6</text><text transform="translate(1795.5 2217.5) scale(1 1.03)" text-anchor="middle">8</text><text transform="translate(1867.5 2217.5) scale(1 1.03)" text-anchor="middle">10</text><text transform="translate(1159.7 2196.2) scale(1 1.03)" text-anchor="end">0</text><text transform="translate(1159.7 2019.2) scale(1 1.03)" text-anchor="end">2</text><text transform="translate(1159.7 1842.2) scale(1 1.03)" text-anchor="end">4</text><text transform="translate(1159.7 1665.2) scale(1 1.03)" text-anchor="end">6</text><text transform="translate(1159.7 1488.3) scale(1 1.03)" text-anchor="end">8</text><text transform="translate(1161.0 1311.3) scale(1 1.03)" text-anchor="end">10</text><text transform="translate(1869.0 2250.0) scale(1 1.03)" text-anchor="end">y</text><text transform="translate(1104.3 1291.0) rotate(-90) scale(1 1.03)" text-anchor="end">Events / ( 1 )</text><text transform="translate(1211.9 1226.9) scale(1 1.03)" style="font-size:31.0px">Unbinned data shown with custom binning</text></g>
<path shape-rendering="crispEdges" fill="none" stroke="#000" stroke-width="1" d="M2163 1293.5H2866M2163 2181.5H2866M2163.5 1293V2182M2865.5 1293V2182M2163.5 2157V2182M2181.5 2169V2182M2196.5 2169V2182M2214.5 2169V2182M2232.5 2157V2182M2250.5 2169V2182M2268.5 2169V2182M2286.5 2169V2182M2304.5 2157V2182M2319.5 2169V2182M2337.5 2169V2182M2355.5 2169V2182M2373.5 2157V2182M2391.5 2169V2182M2409.5 2169V2182M2427.5 2169V2182M2442.5 2157V2182M2460.5 2169V2182M2478.5 2169V2182M2496.5 2169V2182M2514.5 2157V2182M2532.5 2169V2182M2550.5 2169V2182M2565.5 2169V2182M2583.5 2157V2182M2601.5 2169V2182M2619.5 2169V2182M2637.5 2169V2182M2655.5 2157V2182M2670.5 2169V2182M2688.5 2169V2182M2706.5 2169V2182M2724.5 2157V2182M2742.5 2169V2182M2760.5 2169V2182M2778.5 2169V2182M2793.5 2157V2182M2811.5 2169V2182M2829.5 2169V2182M2847.5 2169V2182M2865.5 2157V2182M2163 2181.5H2185M2163 2136.5H2176M2163 2094.5H2176M2163 2049.5H2176M2163 2004.5H2185M2163 1962.5H2176M2163 1917.5H2176M2163 1872.5H2176M2163 1827.5H2185M2163 1785.5H2176M2163 1740.5H2176M2163 1695.5H2176M2163 1650.5H2185M2163 1608.5H2176M2163 1563.5H2176M2163 1518.5H2176M2163 1476.5H2185M2163 1431.5H2176M2163 1386.5H2176M2163 1341.5H2176M2163 1299.5H2185"/>
<clipPath id="c21"><rect x="2163" y="1293" width="703" height="889"/></clipPath>
<path clip-path="url(#c21)" shape-rendering="crispEdges" fill="none" stroke="#000" stroke-width="1" d="M2163 2094.5H2170M2163.5 2088V2101M2193 2094.5H2197M2196.5 2088V2101M2181.5 1890V2083M2175 1890.5H2188M2181.5 2106V2167M2175 2166.5H2188M2196 2094.5H2203M2196.5 2088V2101M2226 2094.5H2233M2232.5 2088V2101M2214.5 1890V2083M2208 1890.5H2221M2214.5 2106V2167M2208 2166.5H2221M2232 1827.5H2239M2232.5 1821V1834M2262 1827.5H2269M2268.5 1821V1834M2250.5 1548V1816M2244 1548.5H2257M2250.5 1839V1999M2244 1998.5H2257M2268 1740.5H2275M2268.5 1734V1747M2298 1740.5H2305M2304.5 1734V1747M2286.5 1440V1729M2280 1440.5H2293M2286.5 1752V1933M2280 1932.5H2293M2304 2181.5H2308M2304.5 2175V2188M2331 2181.5H2338M2337.5 2175V2188M2319.5 2079V2170M2313 2079.5H2326M2337 2004.5H2344M2337.5 1998V2011M2367 2004.5H2374M2373.5 1998V2011M2355.5 1773V1993M2349 1773.5H2362M2355.5 2016V2119M2349 2118.5H2362M2373 1827.5H2380M2373.5 1821V1834M2403 1827.5H2410M2409.5 1821V1834M2391.5 1548V1816M2385 1548.5H2398M2391.5 1839V1999M2385 1998.5H2398M2409 1917.5H2416M2409.5 1911V1924M2439 1917.5H2443M2442.5 1911V1924M2427.5 1659V1906M2421 1659.5H2434M2427.5 1929V2062M2421 2061.5H2434M2442 1740.5H2449M2442.5 1734V1747M2472 1740.5H2479M2478.5 1734V1747M2460.5 1440V1729M2454 1440.5H2467M2460.5 1752V1933M2454 1932.5H2467M2478 1650.5H2485M2478.5 1644V1657M2508 1650.5H2515M2514.5 1644V1657M2496.5 1335V1639M2490 1335.5H2503M2496.5 1662V1864M2490 1863.5H2503M2514 1917.5H2521M2514.5 1911V1924M2544 1917.5H2551M2550.5 1911V1924M2532.5 1659V1906M2526 1659.5H2539M2532.5 1929V2062M2526 2061.5H2539M2550 2004.5H2554M2550.5 1998V2011M2577 2004.5H2584M2583.5 1998V2011M2565.5 1773V1993M2559 1773.5H2572M2565.5 2016V2119M2559 2118.5H2572M2583 1650.5H2590M2583.5 1644V1657M2613 1650.5H2620M2619.5 1644V1657M2601.5 1335V1639M2595 1335.5H2608M2601.5 1662V1864M2595 1863.5H2608M2619 1917.5H2626M2619.5 1911V1924M2649 1917.5H2656M2655.5 1911V1924M2637.5 1659V1906M2631 1659.5H2644M2637.5 1929V2062M2631 2061.5H2644M2655 2094.5H2659M2655.5 2088V2101M2682 2094.5H2689M2688.5 2088V2101M2670.5 1890V2083M2664 1890.5H2677M2670.5 2106V2167M2664 2166.5H2677M2688 1827.5H2695M2688.5 1821V1834M2718 1827.5H2725M2724.5 1821V1834M2706.5 1548V1816M2700 1548.5H2713M2706.5 1839V1999M2700 1998.5H2713M2724 1917.5H2731M2724.5 1911V1924M2754 1917.5H2761M2760.5 1911V1924M2742.5 1659V1906M2736 1659.5H2749M2742.5 1929V2062M2736 2061.5H2749M2760 2004.5H2767M2760.5 1998V2011M2790 2004.5H2794M2793.5 1998V2011M2778.5 1773V1993M2772 1773.5H2785M2778.5 2016V2119M2772 2118.5H2785M2793 1917.5H2800M2793.5 1911V1924M2823 1917.5H2830M2829.5 1911V1924M2811.5 1659V1906M2805 1659.5H2818M2811.5 1929V2062M2805 2061.5H2818M2829 1650.5H2836M2829.5 1644V1657M2859 1650.5H2866M2865.5 1644V1657M2847.5 1335V1639M2841 1335.5H2854M2847.5 1662V1864M2841 1863.5H2854"/>
<g fill="#000"><circle cx="2181.5" cy="2094.5" r="12.7"/><circle cx="2214.5" cy="2094.5" r="12.7"/><circle cx="2250.5" cy="1827.5" r="12.7"/><circle cx="2286.5" cy="1740.5" r="12.7"/><circle cx="2319.5" cy="2181.5" r="12.7"/><circle cx="2355.5" cy="2004.5" r="12.7"/><circle cx="2391.5" cy="1827.5" r="12.7"/><circle cx="2427.5" cy="1917.5" r="12.7"/><circle cx="2460.5" cy="1740.5" r="12.7"/><circle cx="2496.5" cy="1650.5" r="12.7"/><circle cx="2532.5" cy="1917.5" r="12.7"/><circle cx="2565.5" cy="2004.5" r="12.7"/><circle cx="2601.5" cy="1650.5" r="12.7"/><circle cx="2637.5" cy="1917.5" r="12.7"/><circle cx="2670.5" cy="2094.5" r="12.7"/><circle cx="2706.5" cy="1827.5" r="12.7"/><circle cx="2742.5" cy="1917.5" r="12.7"/><circle cx="2778.5" cy="2004.5" r="12.7"/><circle cx="2811.5" cy="1917.5" r="12.7"/><circle cx="2847.5" cy="1650.5" r="12.7"/></g>
<path fill="none" stroke="#f00" stroke-width="1" d="M2173.0 2086.0l17 17M2173.0 2103.0l17 -17M2206.0 2086.0l17 17M2206.0 2103.0l17 -17M2242.0 1819.0l17 17M2242.0 1836.0l17 -17M2278.0 1732.0l17 17M2278.0 1749.0l17 -17M2311.0 2173.0l17 17M2311.0 2190.0l17 -17M2347.0 1996.0l17 17M2347.0 2013.0l17 -17M2383.0 1819.0l17 17M2383.0 1836.0l17 -17M2419.0 1909.0l17 17M2419.0 1926.0l17 -17M2452.0 1732.0l17 17M2452.0 1749.0l17 -17M2488.0 1642.0l17 17M2488.0 1659.0l17 -17M2524.0 1909.0l17 17M2524.0 1926.0l17 -17M2557.0 1996.0l17 17M2557.0 2013.0l17 -17M2593.0 1642.0l17 17M2593.0 1659.0l17 -17M2629.0 1909.0l17 17M2629.0 1926.0l17 -17M2662.0 2086.0l17 17M2662.0 2103.0l17 -17M2698.0 1819.0l17 17M2698.0 1836.0l17 -17M2734.0 1909.0l17 17M2734.0 1926.0l17 -17M2770.0 1996.0l17 17M2770.0 2013.0l17 -17M2803.0 1909.0l17 17M2803.0 1926.0l17 -17M2839.0 1642.0l17 17M2839.0 1659.0l17 -17"/>
<g><text transform="translate(2187.5 2217.5) scale(1 1.03)" text-anchor="end"><tspan style="font-size:28.5px" dy="-1">–</tspan><tspan dy="1">10</tspan></text><text transform="translate(2248.1 2217.5) scale(1 1.03)" text-anchor="end"><tspan style="font-size:28.5px" dy="-1">–</tspan><tspan dy="1">8</tspan></text><text transform="translate(2320.1 2217.5) scale(1 1.03)" text-anchor="end"><tspan style="font-size:28.5px" dy="-1">–</tspan><tspan dy="1">6</tspan></text><text transform="translate(2389.1 2217.5) scale(1 1.03)" text-anchor="end"><tspan style="font-size:28.5px" dy="-1">–</tspan><tspan dy="1">4</tspan></text><text transform="translate(2458.1 2217.5) scale(1 1.03)" text-anchor="end"><tspan style="font-size:28.5px" dy="-1">–</tspan><tspan dy="1">2</tspan></text><text transform="translate(2512.5 2217.5) scale(1 1.03)" text-anchor="middle">0</text><text transform="translate(2581.5 2217.5) scale(1 1.03)" text-anchor="middle">2</text><text transform="translate(2653.5 2217.5) scale(1 1.03)" text-anchor="middle">4</text><text transform="translate(2722.5 2217.5) scale(1 1.03)" text-anchor="middle">6</text><text transform="translate(2791.5 2217.5) scale(1 1.03)" text-anchor="middle">8</text><text transform="translate(2863.5 2217.5) scale(1 1.03)" text-anchor="middle">10</text><text transform="translate(2155.7 2196.2) scale(1 1.03)" text-anchor="end">0</text><text transform="translate(2155.7 2019.2) scale(1 1.03)" text-anchor="end">2</text><text transform="translate(2155.7 1842.2) scale(1 1.03)" text-anchor="end">4</text><text transform="translate(2155.7 1665.2) scale(1 1.03)" text-anchor="end">6</text><text transform="translate(2155.7 1488.3) scale(1 1.03)" text-anchor="end">8</text><text transform="translate(2157.0 1311.3) scale(1 1.03)" text-anchor="end">10</text><text transform="translate(2865.0 2250.0) scale(1 1.03)" text-anchor="end">y</text><text transform="translate(2106.0 1291.0) rotate(-90) scale(1 1.03)" text-anchor="end">Events / ( 1 )</text><text transform="translate(2192.8 1232.8) scale(1 1.03)" style="font-size:32.15px">Unbinned data read back from ASCII file</text></g>
</svg>
</body></html>
